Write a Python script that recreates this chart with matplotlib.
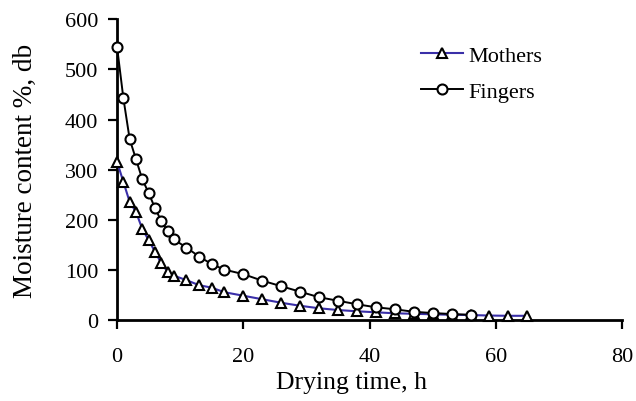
import matplotlib
matplotlib.use("Agg")
import matplotlib.pyplot as plt

# drying time (h) and moisture content (% db)
mothers_t = [0, 1, 2, 3, 4, 5, 6, 7, 8, 9, 11, 13, 15, 17, 20, 23, 26, 29, 32, 35,
             38, 41, 44, 47, 50, 53, 56, 59, 62, 65]
mothers_mc = [316, 276, 236, 216, 182, 160, 137, 114, 97, 89, 80, 70, 65, 56, 49, 42, 35, 29, 24, 20.5,
              18, 16, 14, 13, 12, 11, 10.5, 9.5, 9, 9]

fingers_t = [0, 1, 2, 3, 4, 5, 6, 7, 8, 9, 11, 13, 15, 17, 20, 23, 26, 29, 32, 35,
             38, 41, 44, 47, 50, 53, 56]
fingers_mc = [545, 443, 361, 321, 281, 254, 224, 198, 178, 161, 145, 127, 112, 101, 92, 79, 68, 57, 46, 39,
              32, 26, 22, 17, 14.5, 12.5, 11]

x_ticks = [0, 20, 40, 60, 80]
y_ticks = [0, 100, 200, 300, 400, 500, 600]

plt.rcParams['font.family'] = ['Liberation Serif', 'DejaVu Serif']

fig = plt.figure(figsize=(6.36, 4.02), dpi=100)
ax = fig.add_axes([0.184, 0.2007, 0.794, 0.7493])

ax.plot(mothers_t, mothers_mc, color='#3a2fa8', lw=1.5, marker='^', ms=7,
        mfc='white', mec='black', mew=1.5, label='Mothers', clip_on=False, zorder=3)
ax.plot(fingers_t, fingers_mc, color='black', lw=1.4, marker='o', ms=7.2,
        mfc='white', mec='black', mew=1.5, label='Fingers', clip_on=False, zorder=4)

ax.set_xlim(0, 80)
ax.set_ylim(0, 600)
ax.set_xticks(x_ticks)
ax.set_yticks(y_ticks)
ax.tick_params(labelsize=16, width=1.6, length=6.5, direction='out')
ax.tick_params(axis='x', pad=13)
ax.tick_params(axis='y', pad=7)
for s in ['top', 'right']:
    ax.spines[s].set_visible(False)
for s in ['left', 'bottom']:
    ax.spines[s].set_linewidth(2)

ax.set_xlabel('Drying time, h', fontsize=18.5)
ax.xaxis.set_label_coords(0.465, -0.168)
ax.set_ylabel('Moisture content %, db', fontsize=19.5)
ax.yaxis.set_label_coords(-0.156, 0.5)

leg = ax.legend(loc='upper left', bbox_to_anchor=(0.602, 0.912), frameon=False,
                fontsize=16, handlelength=1.9, handletextpad=0.22, labelspacing=0.68,
                borderpad=0, borderaxespad=0)

fig.savefig('out.png', dpi=100)
